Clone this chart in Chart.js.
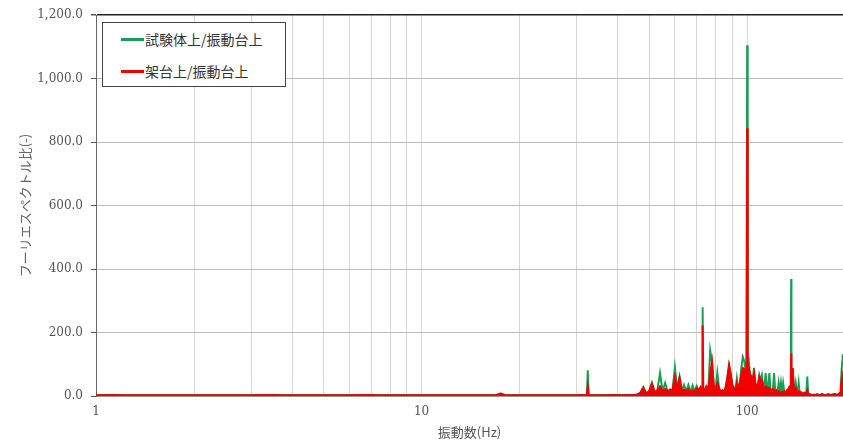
<!DOCTYPE html>
<html lang="ja">
<head>
<meta charset="utf-8">
<title>フーリエスペクトル比</title>
<script src="https://cdn.jsdelivr.net/npm/chart.js@4.4.1/dist/chart.umd.min.js"></script>
<style>
    html, body { margin: 0; padding: 0; background: #fff; overflow: hidden; }
    #wrap { position: relative; width: 843px; height: 440px; }
    #legend {
        position: absolute; left: 102px; top: 22px; width: 182px; height: 63px;
        border: 1.5px solid #444; background: #fff;
        font-family: 'Noto Sans CJK JP', sans-serif; font-size: 14px; color: #333;
    }
    .item { position: absolute; left: 18px; height: 20px; display: flex; align-items: center; white-space: nowrap; }
    .swatch { width: 23px; height: 3px; margin-right: 1px; }
</style>
</head>
<body>
<div id="wrap">
    <canvas id="spectrumChart" width="843" height="440"></canvas>
    <div id="legend"></div>
</div>
<script>
// series names (legend)
const seriesNames = ['試験体上/振動台上', '架台上/振動台上'];

// frequency (Hz)
const freqHz = [
    1, 1.1, 1.25, 1.4, 1.6, 1.8, 2, 2.3, 2.6, 3, 3.4, 3.8, 4.3, 4.8, 5.4, 6, 6.7, 7.5, 8.4, 9.3,
    10, 11, 12, 13, 14.5, 16, 17, 17.5, 18, 19, 20.5, 22, 24, 26, 28, 30, 31.5, 32.2, 32.4, 32.6,
    33.5, 35, 37, 39, 41, 43, 44,
    45, 46, 47, 48, 49, 50, 51, 52, 53, 54, 55, 56, 57, 58, 59, 60, 61, 62, 63, 64,
    65, 66, 67, 68, 69, 70, 71, 72, 72.7, 73, 73.3, 74, 75, 76, 77, 78, 79, 80, 81, 82,
    83, 84, 85, 86, 87, 88, 89, 90, 91, 92, 93, 94, 95, 96, 97, 98, 99, 99.6, 100, 100.4,
    101, 102, 103, 104, 105, 106, 107, 108, 109, 110, 111, 112, 113, 114, 115, 116, 117, 118, 119, 120,
    121, 122, 123, 124, 125, 126, 127, 128, 129, 130, 131, 132, 133, 134, 135, 136.2, 136.5, 136.8, 138, 139,
    140, 141, 142, 143, 144, 145, 146, 147, 148, 149, 150, 151, 152, 153, 154, 155,
    156, 158, 160, 162, 164, 166, 168, 170, 172, 174, 176, 178, 180, 182, 184, 186, 188, 190,
    191, 192, 193, 194, 195, 196, 196.5, 197
];

// 試験体上/振動台上
const specimenRatio = [
    2, 3, 2, 2, 2, 2, 2, 2, 2, 2, 3, 2, 2, 2, 2, 2, 3, 2, 2, 2,
    2, 2, 2, 2, 2, 2, 3, 8, 3, 2, 2, 2, 2, 2, 2, 2, 3, 3, 81, 3,
    2, 2, 2, 3, 2, 3, 3,
    3, 5, 10, 28, 8, 15, 42, 12, 18, 72, 15, 41, 14, 20, 18, 91, 20, 60, 18, 35,
    15, 35, 12, 33, 14, 32, 18, 28, 20, 280, 25, 15, 30, 20, 144, 108, 30, 20, 73, 25,
    12, 18, 10, 30, 60, 97, 70, 35, 25, 15, 56, 20, 40, 90, 123, 110, 80, 55, 1105, 90,
    123, 70, 60, 45, 88, 40, 30, 35, 66, 50, 66, 30, 25, 72, 28, 22, 72, 20, 18, 22,
    72, 15, 18, 12, 41, 10, 41, 10, 41, 15, 12, 15, 20, 22, 30, 30, 369, 50, 88, 30,
    20, 41, 15, 12, 41, 10, 12, 10, 8, 8, 10, 8, 10, 61, 8, 6,
    5, 3, 4, 3, 5, 3, 4, 6, 3, 3, 4, 5, 3, 4, 5, 6, 4, 5,
    6, 8, 10, 40, 80, 110, 131, 120
];

// 架台上/振動台上
const frameRatio = [
    2, 3, 2, 2, 2, 2, 2, 2, 2, 2, 3, 2, 2, 2, 2, 2, 3, 2, 2, 2,
    2, 2, 2, 2, 2, 2, 3, 8, 3, 2, 2, 2, 2, 2, 2, 2, 3, 3, 29, 3,
    2, 2, 2, 3, 2, 3, 3,
    3, 5, 10, 26, 8, 15, 38, 12, 18, 30, 15, 22, 14, 20, 18, 60, 20, 58, 18, 20,
    15, 22, 12, 18, 14, 25, 18, 28, 20, 222, 25, 15, 30, 20, 70, 108, 30, 20, 40, 25,
    12, 18, 10, 30, 60, 97, 70, 35, 25, 15, 40, 20, 40, 70, 88, 85, 80, 55, 844, 85,
    91, 70, 60, 45, 72, 40, 30, 35, 60, 50, 50, 30, 25, 30, 28, 22, 25, 20, 18, 22,
    20, 15, 18, 12, 15, 10, 12, 10, 12, 15, 12, 15, 20, 22, 30, 30, 134, 50, 88, 30,
    20, 25, 15, 12, 15, 10, 12, 10, 8, 8, 10, 8, 10, 18, 8, 6,
    5, 3, 4, 3, 5, 3, 4, 6, 3, 3, 4, 5, 3, 4, 5, 6, 4, 5,
    6, 8, 10, 30, 45, 60, 66, 62
];

// axis ticks
const xGridTicks = [1, 2, 3, 4, 5, 6, 7, 8, 9, 10, 20, 30, 40, 50, 60, 70, 80, 90, 100];
const xTickLabels = [1, 10, 100];
const yTicks = [0, 200, 400, 600, 800, 1000, 1200];

const GREEN = '#1b9e4f';
const RED = '#f00000';
const serif = "'DejaVu Serif', 'Liberation Serif', serif";
const cjk = "'Noto Sans CJK JP', sans-serif";

const toPoints = (values) => freqHz.map((f, i) => ({ x: f, y: values[i] }));

const chart = new Chart(document.getElementById('spectrumChart').getContext('2d'), {
    type: 'line',
    data: {
        datasets: [
            {
                label: seriesNames[0],
                data: toPoints(specimenRatio),
                borderColor: GREEN,
                backgroundColor: GREEN,
                borderWidth: 2,
                fill: false,
                order: 1
            },
            {
                label: seriesNames[1],
                data: toPoints(frameRatio),
                borderColor: RED,
                backgroundColor: RED,
                borderWidth: 2,
                fill: 'origin',
                order: 0
            }
        ]
    },
    options: {
        responsive: false,
        animation: false,
        devicePixelRatio: 1,
        layout: { padding: { top: 13, left: 0, right: 0, bottom: 0 } },
        elements: {
            point: { radius: 0 },
            line: { tension: 0 }
        },
        plugins: {
            legend: { display: false },
            tooltip: { enabled: false }
        },
        scales: {
            x: {
                type: 'logarithmic',
                min: 1,
                max: 197,
                afterBuildTicks: (scale) => { scale.ticks = xGridTicks.map(v => ({ value: v })); },
                afterFit: (scale) => { scale.height = 44; },
                grid: { color: '#d6d6d6', drawTicks: false },
                border: { color: '#999' },
                ticks: {
                    autoSkip: false,
                    maxRotation: 0,
                    padding: 9,
                    color: '#555',
                    font: { family: serif, size: 12 },
                    callback: (v) => xTickLabels.includes(v) ? String(v) : ''
                },
                title: {
                    display: true,
                    text: '振動数(Hz)',
                    color: '#555',
                    font: { family: cjk, size: 13 },
                    padding: { top: 0, bottom: 0 }
                }
            },
            y: {
                min: 0,
                max: 1200,
                afterBuildTicks: (scale) => { scale.ticks = yTicks.map(v => ({ value: v })); },
                afterFit: (scale) => { scale.width = 96; },
                grid: {
                    color: (ctx) => (ctx.tick && ctx.tick.value === 1200) ? '#222' : '#bdbdbd',
                    lineWidth: (ctx) => (ctx.tick && ctx.tick.value === 1200) ? 1.5 : 1,
                    tickColor: '#555',
                    tickLength: 5
                },
                border: { color: '#666' },
                ticks: {
                    padding: 8,
                    color: '#555',
                    font: { family: serif, size: 12 },
                    callback: (v) => v.toLocaleString('en-US', { minimumFractionDigits: 1, maximumFractionDigits: 1 })
                },
                title: {
                    display: true,
                    text: 'フーリエスペクトル比(-)',
                    color: '#666',
                    font: { family: cjk, size: 13 },
                    padding: { top: 17, bottom: 0 }
                }
            }
        }
    }
});

// boxed legend in the upper-left corner of the plot
const legendEl = document.getElementById('legend');
chart.data.datasets.forEach((ds, i) => {
    const item = document.createElement('div');
    item.className = 'item';
    item.style.top = (6 + i * 32) + 'px';
    item.innerHTML = `<span class="swatch" style="background:${ds.borderColor}"></span><span>${ds.label}</span>`;
    legendEl.appendChild(item);
});
</script>
</body>
</html>
